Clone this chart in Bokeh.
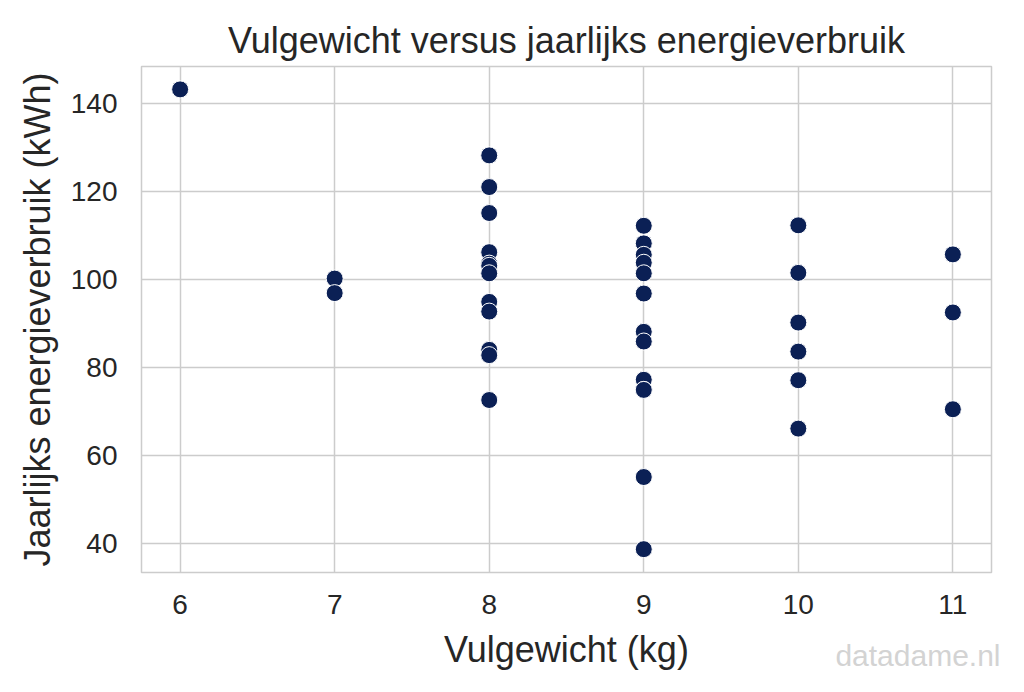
from bokeh.plotting import figure
from bokeh.models import Range1d, FixedTicker, Title
from bokeh.embed import file_html
from bokeh.resources import INLINE

# Data
vulgewicht = [6,
              7, 7,
              8, 8, 8, 8, 8, 8, 8, 8, 8, 8, 8, 8,
              9, 9, 9, 9, 9, 9, 9, 9, 9, 9, 9, 9, 9,
              10, 10, 10, 10, 10, 10,
              11, 11, 11]
energie = [143.2,
           100.2, 96.9,
           128.2, 121.0, 115.1, 106.2, 103.6, 103.1, 101.4, 94.9, 92.7, 84.0, 82.8, 72.6,
           112.2, 108.2, 105.6, 103.8, 101.4, 96.8, 88.1, 85.9, 77.2, 74.9, 74.9, 55.1, 38.7,
           112.3, 101.5, 90.2, 83.6, 77.1, 66.1,
           105.7, 92.5, 70.5]
x_ticks = [6, 7, 8, 9, 10, 11]
y_ticks = [40, 60, 80, 100, 120, 140]

FONT = "Liberation Sans"
TXT = "#262626"

p = figure(width=1008, height=676, output_backend="svg", toolbar_location=None,
           x_range=Range1d(5.75, 11.25), y_range=Range1d(33.4, 148.4),
           min_border_left=141, min_border_right=17, min_border_top=66, min_border_bottom=104)

p.title.text = "Vulgewicht versus jaarlijks energieverbruik"
p.title.align = "center"
p.title.text_font = FONT
p.title.text_font_size = "36px"
p.title.text_font_style = "normal"
p.title.text_color = TXT
p.title.standoff = 12

p.scatter(vulgewicht, energie, size=17, fill_color="#0b2055", line_color="white", line_width=1)

p.xaxis.ticker = FixedTicker(ticks=x_ticks)
p.yaxis.ticker = FixedTicker(ticks=y_ticks)
p.xaxis.axis_label = "Vulgewicht (kg)"
p.yaxis.axis_label = "Jaarlijks energieverbruik (kWh)"

for ax in (p.xaxis, p.yaxis):
    ax.axis_line_color = None
    ax.major_tick_line_color = None
    ax.minor_tick_line_color = None
    ax.major_label_text_font = FONT
    ax.major_label_text_font_size = "28px"
    ax.major_label_text_color = TXT
    ax.axis_label_text_font = FONT
    ax.axis_label_text_font_size = "36px"
    ax.axis_label_text_font_style = "normal"
    ax.axis_label_text_color = TXT

p.xaxis.major_label_standoff = 16
p.xaxis.axis_label_standoff = 12
p.yaxis.major_label_standoff = 18
p.yaxis.axis_label_standoff = 10

p.grid.grid_line_color = "#cccccc"
p.grid.grid_line_width = 1.5
p.outline_line_color = "#cccccc"
p.outline_line_width = 1.5
p.background_fill_color = "white"
p.border_fill_color = "white"

# watermark as a footnote title pulled up next to the axis label
wm = Title(text="datadame.nl", align="right", vertical_align="top", offset=-9, standoff=-68,
           text_font=FONT, text_font_size="30px", text_font_style="normal", text_color="#d3d3d3")
p.add_layout(wm, "below")

open("out.html", "w").write(file_html(p, INLINE))
